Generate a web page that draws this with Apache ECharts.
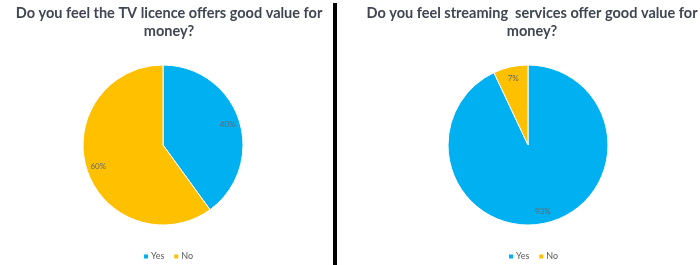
<!DOCTYPE html>
<html><head><meta charset="utf-8">
<script src="https://cdn.jsdelivr.net/npm/echarts@6/dist/echarts.min.js"></script>
<style>html,body{margin:0;padding:0;background:#fff}#c{width:700px;height:265px}</style>
</head><body><div id="c"></div>
<script>
const categories = ['Yes', 'No'];
const tvLicenceValues = [40, 60];
const streamingValues = [93, 7];
const titles = ['Do you feel the TV licence offers good value for\nmoney?', 'Do you feel streaming  services offer good value for\nmoney?'];
const colors = ['#00B0F0', '#FFC000'];

const chart = echarts.init(document.getElementById('c'), null, {renderer: 'canvas'});
const titleStyle = {fontFamily: 'Lato', fontWeight: 'bold', fontSize: 14.5, color: '#3f4651', lineHeight: 18, align: 'center'};
function pie(vals, cx) {
  return {
    type: 'pie', radius: 80, center: [cx, 145], startAngle: 90, clockwise: true,
    itemStyle: {borderColor: '#fff', borderWidth: 1},
    label: {show: false},
    labelLine: {show: false},
    emphasis: {disabled: true},
    data: categories.map((n, i) => ({name: n, value: vals[i], itemStyle: {color: colors[i]}}))
  };
}
function labels(vals, cx) {
  return {
    type: 'pie', radius: [50, 80], center: [cx, 145], startAngle: 90, clockwise: true, silent: true,
    itemStyle: {color: 'rgba(0,0,0,0)'},
    label: {show: true, position: 'inner', formatter: '{c}%', fontFamily: 'Lato', fontSize: 8, color: '#5f6a74'},
    labelLine: {show: false},
    emphasis: {disabled: true},
    legendHoverLink: false,
    data: categories.map((n, i) => ({name: n, value: vals[i]}))
  };
}
const legendBase = {data: categories, top: 252, padding: 0, itemWidth: 6, itemHeight: 6, itemGap: 8, icon: 'rect', selectedMode: false,
  textStyle: {fontFamily: 'Lato', fontSize: 9, color: '#595959', padding: [0, 0, 0, -3]}};
chart.setOption({
  animation: false,
  color: colors,
  title: [
    {text: titles[0], left: 164, top: -1, textAlign: 'center', textStyle: titleStyle},
    {text: titles[1], left: 527, top: -1, textAlign: 'center', textStyle: titleStyle}
  ],
  legend: [
    Object.assign({}, legendBase, {left: 142}),
    Object.assign({}, legendBase, {left: 507})
  ],
  graphic: [{type: 'rect', shape: {x: 333, y: 3, width: 4, height: 262}, style: {fill: '#000'}}],
  series: [pie(tvLicenceValues, 163), pie(streamingValues, 528), labels(tvLicenceValues, 163), labels(streamingValues, 528)]
});
</script></body></html>
